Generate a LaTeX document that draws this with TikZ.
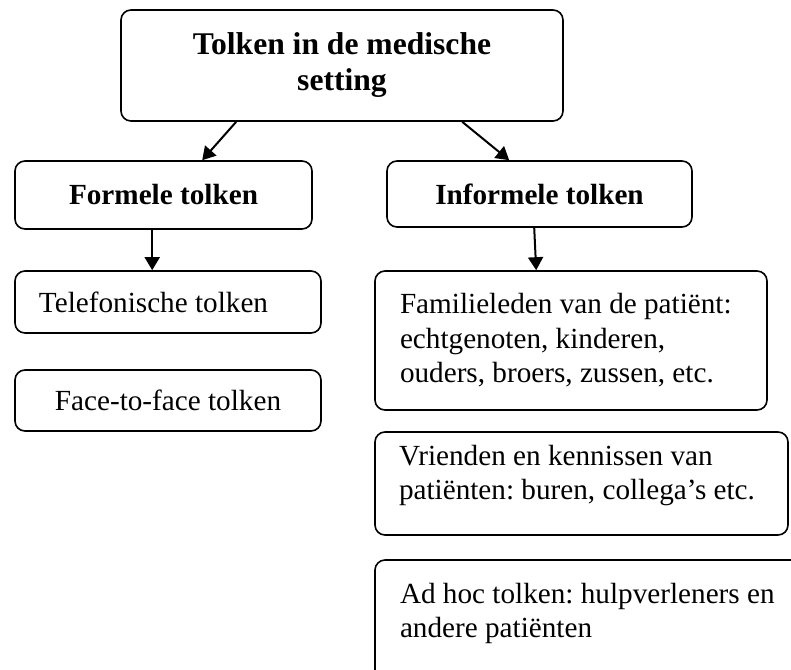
\documentclass[tikz,border=0pt]{standalone}
\usepackage{fontspec}
\setmainfont{Liberation Serif}
\usetikzlibrary{arrows.meta}

\tikzset{
  every box/.style={draw, line width=0.8pt, rounded corners=5pt, inner sep=0pt,
    font=\fontsize{14.6}{17.3}\selectfont\frenchspacing},
  head box/.style={every box, font=\fontsize{14.6}{17.3}\selectfont\bfseries},
  title box/.style={every box, align=center, font=\fontsize{15.8}{18}\selectfont\bfseries},
  list box/.style={every box, align=flush left},
}

\begin{document}
\begin{tikzpicture}[x=0.5pt, y=-0.5pt, >={Triangle[length=6.5pt,width=7.5pt]}]
  \useasboundingbox (0,0) rectangle (791,669);
  \clip (0,0) rectangle (791,669);
  % top
  \node [title box, minimum width=221pt, minimum height=55.5pt] (title) at (342,65.5)
    {Tolken in de medische\\setting};
  % two kinds
  \node [head box, minimum width=148.5pt, minimum height=34pt] (formal) at (163.5,195) {Formele tolken};
  \node [head box, minimum width=152.5pt, minimum height=33pt] (informal) at (539.5,194) {Informele tolken};
  % formal column
  \node [list box, minimum width=153pt, minimum height=31pt, text width=129pt] (phone) at (168,302)
    {Telefonische tolken};
  \node [every box, minimum width=153pt, minimum height=30.5pt] (face) at (168,400.5)
    {Face-to-face tolken};
  % informal column
  \node [list box, minimum width=196pt, minimum height=69.5pt, text width=171pt] (family) at (571,340.5)
    {Familieleden van de patiënt:\\echtgenoten, kinderen,\\ouders, broers, zussen, etc.};
  \node [list box, minimum width=206.5pt, minimum height=51.5pt, text width=182.5pt, text depth=28.5pt] (friends) at (581.5,483.5)
    {Vrienden en kennissen van\\patiënten: buren, collega’s etc.};
  \node [list box, minimum width=222.5pt, minimum height=70pt, text width=197.5pt, text depth=37pt] (adhoc) at (597.5,630)
    {Ad hoc tolken: hulpverleners en\\andere patiënten};
  % arrows
  \foreach \a/\as/\b/\bs in {title/58/formal/94, title/171/informal/61.5, formal/69/phone/69, informal/74/family/81}
    \draw [->, line width=1pt] ([xshift=\as pt]\a.south west) -- ([xshift=\bs pt]\b.north west);
\end{tikzpicture}
\end{document}
